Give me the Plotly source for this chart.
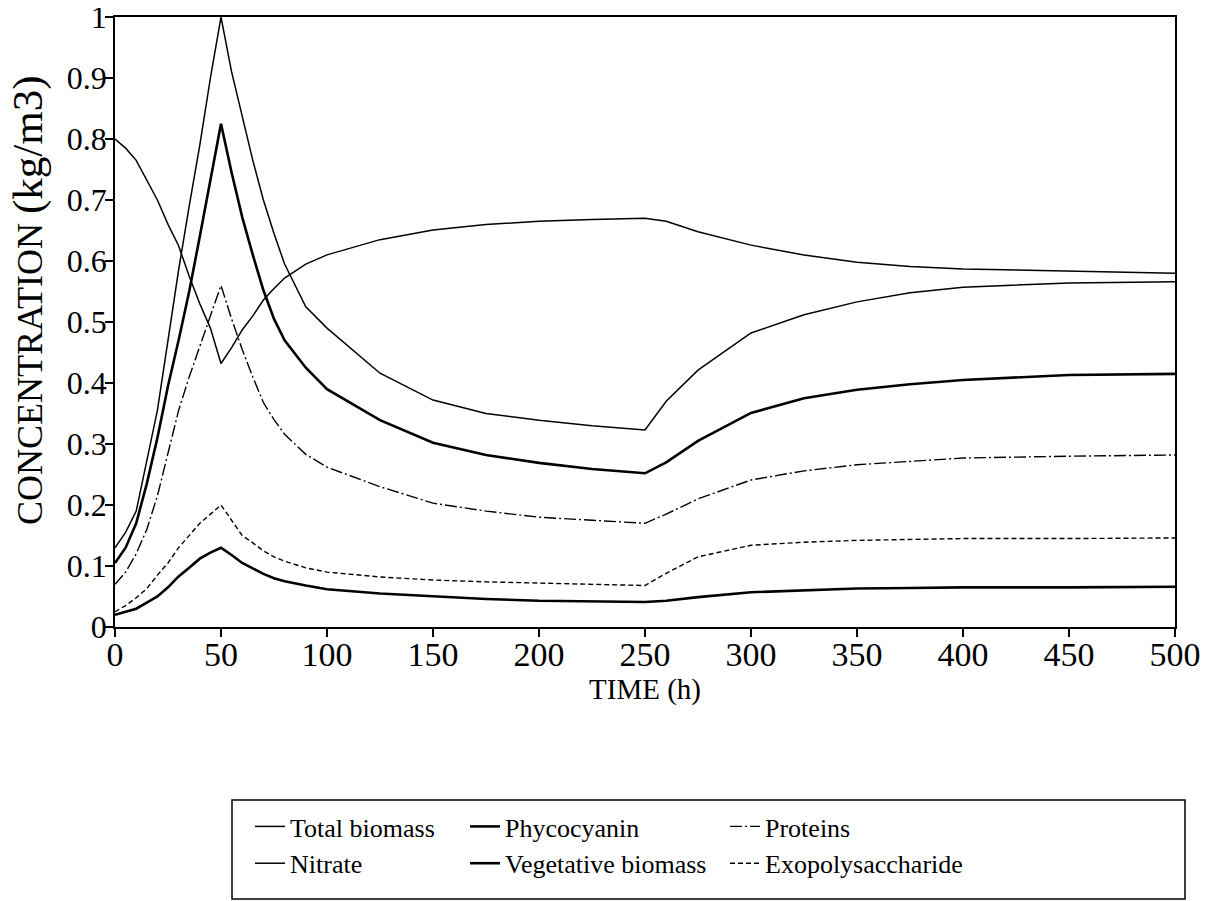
import plotly.graph_objects as go

# ---- data ----
time_h = [0, 5, 10, 15, 20, 25, 30, 35, 40, 45, 50, 55, 60, 65, 70, 75, 80, 90, 100,
          125, 150, 175, 200, 225, 250, 260, 275, 300, 325, 350, 375, 400, 450, 500]

total_biomass = [0.13, 0.155, 0.19, 0.27, 0.355, 0.47, 0.585, 0.69, 0.79, 0.90, 1.0,
                 0.91, 0.835, 0.765, 0.70, 0.645, 0.595, 0.525, 0.49,
                 0.416, 0.372, 0.35, 0.339, 0.33, 0.323, 0.37, 0.421, 0.482, 0.512,
                 0.533, 0.548, 0.557, 0.564, 0.566]

nitrate = [0.80, 0.785, 0.765, 0.733, 0.70, 0.66, 0.625, 0.575, 0.53, 0.49, 0.432,
           0.458, 0.487, 0.51, 0.536, 0.555, 0.572, 0.595, 0.61,
           0.635, 0.651, 0.66, 0.665, 0.668, 0.67, 0.665, 0.648, 0.626, 0.61,
           0.598, 0.591, 0.587, 0.583, 0.58]

vegetative_biomass = [0.105, 0.13, 0.17, 0.235, 0.31, 0.395, 0.47, 0.55, 0.64, 0.73, 0.825,
                      0.745, 0.672, 0.61, 0.552, 0.505, 0.47, 0.425, 0.39,
                      0.339, 0.302, 0.282, 0.269, 0.259, 0.252, 0.27, 0.305, 0.351, 0.375,
                      0.389, 0.398, 0.405, 0.413, 0.415]

proteins = [0.07, 0.09, 0.12, 0.16, 0.215, 0.285, 0.355, 0.41, 0.46, 0.51, 0.56,
            0.505, 0.455, 0.41, 0.368, 0.34, 0.316, 0.283, 0.262,
            0.23, 0.203, 0.19, 0.18, 0.175, 0.17, 0.185, 0.21, 0.241, 0.256,
            0.266, 0.272, 0.277, 0.28, 0.282]

exopolysaccharide = [0.025, 0.035, 0.048, 0.063, 0.085, 0.105, 0.13, 0.15, 0.17, 0.185, 0.2,
                     0.175, 0.15, 0.138, 0.125, 0.115, 0.108, 0.097, 0.09,
                     0.082, 0.077, 0.074, 0.072, 0.07, 0.068, 0.088, 0.115, 0.134, 0.139,
                     0.142, 0.144, 0.145, 0.145, 0.146]

phycocyanin = [0.02, 0.025, 0.03, 0.04, 0.05, 0.065, 0.083, 0.097, 0.112, 0.122, 0.13,
               0.118, 0.105, 0.096, 0.087, 0.08, 0.075, 0.068, 0.062,
               0.055, 0.05, 0.046, 0.043, 0.042, 0.041, 0.043, 0.049, 0.057, 0.06,
               0.063, 0.064, 0.065, 0.065, 0.066]

y_tick_values = [0, 0.1, 0.2, 0.3, 0.4, 0.5, 0.6, 0.7, 0.8, 0.9, 1]
y_tick_labels = ["0", "0.1", "0.2", "0.3", "0.4", "0.5", "0.6", "0.7", "0.8", "0.9", "1"]

# (name, values, width, dash, legend column)
series = [
    ("Total biomass", total_biomass, 1.5, "solid", "legend"),
    ("Nitrate", nitrate, 1.5, "solid", "legend"),
    ("Phycocyanin", phycocyanin, 2.6, "solid", "legend2"),
    ("Vegetative biomass", vegetative_biomass, 2.6, "solid", "legend2"),
    ("Proteins", proteins, 1.4, "12px,3px,2px,3px", "legend3"),
    ("Exopolysaccharide", exopolysaccharide, 1.4, "5px,3px", "legend3"),
]

SERIF = "Liberation Serif, DejaVu Serif, serif"
W, H = 1209, 901
ML, MR, MT, MB = 107, 42, 9, 282
PW, PH = W - ML - MR, H - MT - MB


def pxx(p):
    return (p - ML) / PW


def pxy(p):
    return (MT + PH - p) / PH


fig = go.Figure()
for name, vals, w, dash, lg in series:
    fig.add_trace(go.Scatter(x=time_h, y=vals, mode="lines", name=name, legend=lg,
                             line=dict(color="black", width=w, dash=dash)))


def legend_col(xpx):
    return dict(
        orientation="v",
        x=pxx(xpx), y=pxy(795), xanchor="left", yanchor="top",
        font=dict(family=SERIF, size=26, color="black"),
        bgcolor="rgba(0,0,0,0)", borderwidth=0, traceorder="normal",
    )


fig.update_layout(
    width=W, height=H,
    margin=dict(l=ML, r=MR, t=MT, b=MB, autoexpand=False),
    paper_bgcolor="white", plot_bgcolor="white",
    font=dict(family=SERIF, color="black"),
    showlegend=True,
    legend=legend_col(242),
    legend2=legend_col(457),
    legend3=legend_col(717),
)
fig.add_shape(type="rect", xref="paper", yref="paper",
              x0=pxx(224), x1=pxx(1177), y0=pxy(891), y1=pxy(792),
              line=dict(color="black", width=1.5))

# y-axis title placed as a rotated annotation to match the reference position
fig.add_annotation(
    text="CONCENTRATION <span style='font-size:43px'>(kg/m3)</span>",
    xref="paper", yref="paper", x=pxx(20), y=pxy(292),
    xanchor="center", yanchor="middle", textangle=-90, showarrow=False,
    font=dict(family=SERIF, size=36, color="black"),
)

fig.update_xaxes(
    range=[0, 500], tick0=0, dtick=50,
    showline=True, mirror=True, linecolor="black", linewidth=1.5,
    ticks="outside", ticklen=8, tickwidth=1.5, tickcolor="black",
    ticklabelstandoff=-12,
    showgrid=False, zeroline=False,
    tickfont=dict(family=SERIF, size=34, color="black"),
    title=dict(text="TIME (h)", font=dict(family=SERIF, size=29, color="black"), standoff=0),
)
fig.update_yaxes(
    range=[0, 1], tickmode="array", tickvals=y_tick_values, ticktext=y_tick_labels,
    showline=True, mirror=True, linecolor="black", linewidth=1.5,
    ticks="outside", ticklen=8, tickwidth=1.5, tickcolor="black",
    ticklabelstandoff=-8, ticklabeloverflow="allow",
    showgrid=False, zeroline=False,
    tickfont=dict(family=SERIF, size=32, color="black"),
)

fig.write_html("out.html")
